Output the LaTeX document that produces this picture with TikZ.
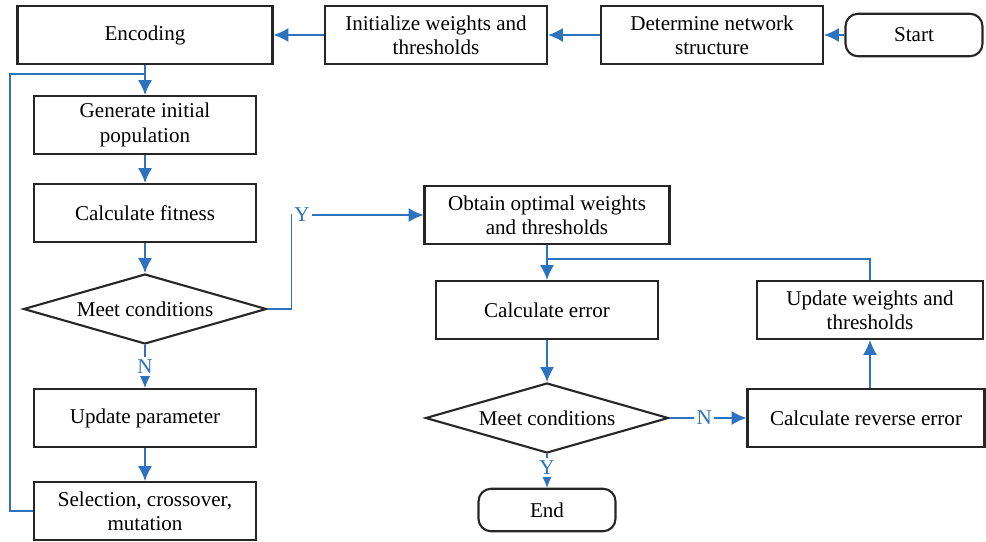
\documentclass[tikz,border=0pt]{standalone}
\usepackage{fontspec}
\setmainfont{Liberation Serif}
\usetikzlibrary{arrows.meta,shapes.geometric}
\definecolor{flowblue}{RGB}{44,114,190}

\begin{document}
\begin{tikzpicture}[x=0.02cm, y=-0.02cm,
    every node/.style={font=\fontsize{12}{13.8}\selectfont},
    stepbox/.style={draw=black!85, line width=1.2pt, minimum width=4.44cm, minimum height=1.16cm, align=center, inner sep=2pt},
    termbox/.style={draw=black!85, line width=1.2pt, rounded corners=0.25cm, minimum width=2.74cm, minimum height=0.85cm},
    testbox/.style={draw=black!85, line width=1.2pt, diamond, aspect=3.47, minimum width=4.86cm, minimum height=1.4cm, inner sep=0pt},
    link/.style={draw=flowblue, line width=0.8pt, -{Latex[length=8.5pt,width=8pt]}},
    plain/.style={draw=flowblue, line width=0.8pt},
    answer/.style={text=flowblue, fill=white, inner sep=1.5pt}]

    \useasboundingbox (0,0) rectangle (986,541);

    % Top row
    \node[termbox] (start) at (914,35) {Start};
    \node[stepbox] (determine) at (712,35) {Determine network\\structure};
    \node[stepbox] (init) at (436,35) {Initialize weights and\\thresholds};
    \node[stepbox, minimum width=5.1cm] (encoding) at (145,35) {Encoding};

    % Genetic algorithm column
    \node[stepbox] (generate) at (145,125) {Generate initial\\population};
    \node[stepbox] (fitness) at (145,213) {Calculate fitness};
    \node[testbox] (meetga) at (145,309) {Meet conditions};
    \node[stepbox] (update) at (145,418) {Update parameter};
    \node[stepbox] (select) at (145,511) {Selection, crossover,\\mutation};
    \coordinate (gajoin) at (145,74);

    % Network training column
    \node[stepbox, minimum width=4.9cm] (optimal) at (547,215) {Obtain optimal weights\\and thresholds};
    \node[stepbox] (error) at (547,310) {Calculate error};
    \node[testbox] (meetbp) at (547,418) {Meet conditions};
    \node[termbox] (finish) at (547,510) {End};
    \node[stepbox, minimum width=4.74cm] (reverse) at (866,418) {Calculate reverse error};
    \node[stepbox, minimum width=4.52cm] (adjust) at (870,310) {Update weights and\\thresholds};
    \coordinate (bpjoin) at (547,259);

    % Connectors
    \draw[link] (start) -- (determine);
    \draw[link] (determine) -- (init);
    \draw[link] (init) -- (encoding);
    \draw[link] (encoding) -- (generate);
    \draw[link] (generate) -- (fitness);
    \draw[link] (fitness) -- (meetga);
    \draw[link] (meetga) -- node[answer] {N} (update);
    \draw[link] (update) -- (select);
    \draw[plain] (select.west) -- ++(-23,0) |- (gajoin);
    \draw[link] (meetga.east) -- ++(24,0) |- node[answer, pos=0.54] {Y} (optimal.west);
    \draw[link] (optimal) -- (error);
    \draw[link] (error) -- (meetbp);
    \draw[link] (meetbp) -- node[answer, pos=0.4] {Y} (finish);
    \draw[link] (meetbp) -- node[answer, pos=0.45] {N} (reverse);
    \draw[link] (adjust.south |- reverse.north) -- (adjust.south);
    \draw[plain] (adjust.north) |- (bpjoin);
\end{tikzpicture}
\end{document}
